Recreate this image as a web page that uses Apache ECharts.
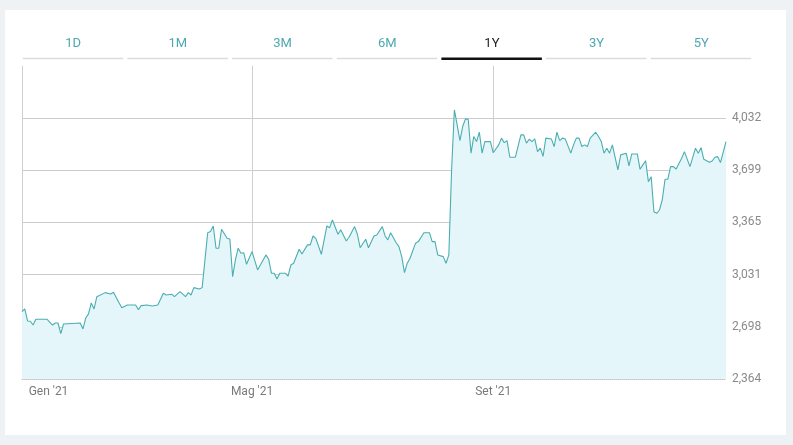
<!DOCTYPE html>
<html>
<head>
<meta charset="utf-8">
<script src="https://cdn.jsdelivr.net/npm/echarts@6/dist/echarts.min.js"></script>
<style>
html,body{margin:0;padding:0;background:#eff2f5;}
#chart{width:793px;height:445px;}
</style>
</head>
<body>
<div id="chart"></div>
<script>
// Trading-day index (0 = first session of January 2021)
const dayIndex = [0,1,2,3,4,5,9,11,12,13,14,15,21,22,23,24,25,26,27,30,32,33,35,36,38,41,42,43,45,47,49,51,52,54,55,57,59,60,61,62,64,65,67,68,69,70,71,72,74,75,76,77,78,79,80,81,83,85,88,89,90,91,92,93,95,96,97,98,100,101,103,104,105,106,108,110,111,112,114,115,117,118,120,121,122,124,125,127,128,130,131,132,133,135,136,137,138,139,140,142,143,145,147,148,149,150,152,153,154,155,156,157,158,159,160,161,162,163,164,165,166,167,169,170,172,173,174,175,176,178,180,181,182,183,184,185,186,187,188,189,191,192,193,194,195,196,198,199,200,201,202,203,204,205,207,208,209,210,211,212,213,215,216,218,219,220,222,223,224,225,226,227,228,229,230,231,232,233,234,235,236,238,239,241,243,244,245,246,248,249,250,251,252,254];
const price = [2794,2812,2735,2733,2709,2746,2746,2709,2722,2722,2654,2716,2722,2684,2754,2780,2850,2812,2890,2916,2907,2918,2852,2820,2837,2837,2807,2833,2837,2831,2837,2912,2901,2906,2890,2922,2890,2916,2901,2948,2939,2948,3299,3306,3342,3200,3200,3321,3263,3259,3018,3125,3200,3168,3171,3097,3178,3061,3157,3129,3040,3040,3003,3040,3040,3022,3093,3104,3193,3163,3221,3221,3278,3263,3161,3342,3331,3380,3289,3317,3246,3270,3338,3289,3203,3257,3203,3278,3284,3338,3278,3253,3299,3235,3210,3146,3044,3104,3136,3232,3242,3299,3299,3242,3242,3157,3146,3104,3157,3700,4083,3988,3887,3977,4026,4024,3807,3913,3881,3941,3807,3881,3881,3810,3860,3903,3874,3887,3781,3781,3924,3924,3871,3896,3881,3898,3817,3839,3787,3903,3898,3849,3941,3887,3903,3898,3807,3860,3903,3903,3849,3860,3849,3903,3941,3913,3881,3807,3839,3807,3860,3700,3796,3807,3726,3802,3802,3704,3732,3759,3625,3657,3433,3423,3444,3508,3640,3640,3721,3721,3706,3775,3817,3721,3839,3807,3842,3768,3749,3757,3781,3785,3747,3881];
const lastDay = 254;
const monthTicks = [0, 83, 170];
const monthLabels = ["Gen '21", "Mag '21", "Set '21"];
const yMin = 2364.2, yStep = 333.6, yMax = 4365.8;
const tabs = ['1D','1M','3M','6M','1Y','3Y','5Y'];
const activeTab = '1Y';

const seriesData = dayIndex.map((d, i) => [d, price[i]]);

const graphics = [{
  type: 'rect', z: -10, silent: true,
  shape: {x: 5, y: 10, width: 781, height: 425},
  style: {fill: '#ffffff'}
}];
tabs.forEach((t, i) => {
  const x0 = 22.7 + i * 104.67;
  const active = t === activeTab;
  graphics.push({
    type: 'rect', silent: true,
    shape: {x: x0, y: active ? 57.5 : 57.8, width: 100.5, height: active ? 2.4 : 1.4},
    style: {fill: active ? '#111111' : '#dcdcdc'}
  });
  graphics.push({
    type: 'text', silent: true,
    x: x0 + 50.5, y: 43.5,
    style: {
      text: t, fill: active ? '#222222' : '#4ca8b0',
      font: '13px Roboto', align: 'center', verticalAlign: 'middle'
    }
  });
});

const chart = echarts.init(document.getElementById('chart'), null, {renderer: 'canvas'});
chart.setOption({
  animation: false,
  backgroundColor: '#eff2f5',
  graphic: graphics,
  grid: {left: 22, right: 67, top: 65.7, bottom: 66},
  xAxis: {
    type: 'value', min: 0, max: lastDay,
    axisLine: {show: true, lineStyle: {color: '#c4c4c4', type: [1, 1], width: 1}},
    axisTick: {show: false, customValues: monthTicks},
    axisLabel: {
      customValues: monthTicks,
      color: '#7a7a7a', fontSize: 12, fontFamily: 'Roboto', margin: 7,
      formatter: v => {
        const k = monthTicks.indexOf(v);
        if (k < 0) return '';
        return k === 0 ? '{first|' + monthLabels[k] + '}' : monthLabels[k];
      },
      rich: {first: {color: '#7a7a7a', fontSize: 12, fontFamily: 'Roboto', padding: [0, 0, 0, 53]}}
    },
    splitLine: {show: true, lineStyle: {color: '#cfcfcf', width: 1}}
  },
  yAxis: {
    type: 'value', position: 'right',
    min: yMin, max: yMax, interval: yStep,
    axisLine: {show: false}, axisTick: {show: false},
    axisLabel: {
      color: '#8a8a8a', fontSize: 12, fontFamily: 'Roboto', margin: 6,
      showMaxLabel: false,
      formatter: v => Math.round(v).toLocaleString('en-US')
    },
    splitLine: {show: true, showMinLine: false, showMaxLine: false, lineStyle: {color: '#cccccc', width: 1}}
  },
  series: [{
    type: 'line',
    data: seriesData,
    showSymbol: false,
    symbol: 'none',
    lineStyle: {color: '#4aaeb1', width: 1.1},
    areaStyle: {color: '#e4f6f9', opacity: 1},
    z: 2
  }]
});
</script>
</body>
</html>
